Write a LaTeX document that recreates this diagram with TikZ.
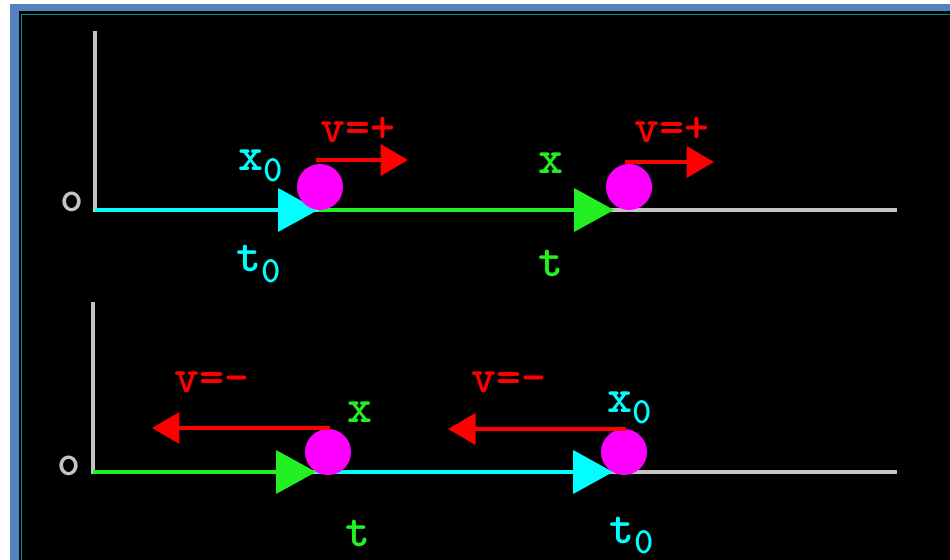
\documentclass[tikz,border=0pt]{standalone}
\usepackage{fontspec}
\usetikzlibrary{
  arrows.meta,
  positioning
}

\definecolor{framesteel}{HTML}{5383BE}
\definecolor{frameteal}{HTML}{0A8C8C}
\definecolor{axisgray}{HTML}{C4C4C4}
\definecolor{trackcyan}{HTML}{00FFFF}
\definecolor{trackgreen}{HTML}{22F022}
\definecolor{ballpink}{HTML}{FF00FF}

\newcommand{\lowidx}[1]{\raisebox{-0.5ex}{\fontsize{21}{21}\selectfont #1}}

\begin{document}
\begin{tikzpicture}[
  x=0.02cm,
  y=-0.02cm,
  font=\ttfamily\bfseries\fontsize{27}{27}\selectfont,
  axis/.style={axisgray, line width=1.9pt},
  track/.style={line width=2.2pt, -{Triangle[length=0.8cm,width=0.86cm]}},
  vel/.style={red, line width=2.4pt, -{Triangle[length=0.55cm,width=0.62cm]}},
  ball/.style={circle, fill=ballpink, minimum size=0.92cm, inner sep=0pt},
  label/.style={inner sep=0pt, anchor=base},
  origin/.style={inner sep=0pt, anchor=base, axisgray,
                 font=\ttfamily\bfseries\fontsize{25}{25}\selectfont}
]

  % Window frame and black screen.
  \useasboundingbox (0,0) rectangle (950,560);
  \clip (0,0) rectangle (950,560);
  \fill[white] (0,0) rectangle (950,560);
  \fill[framesteel] (10,4) rectangle (960,570);
  \fill[black] (19,11) rectangle (960,570);
  \draw[frameteal, line width=0.9pt] (21.5,570) -- (21.5,14.5) -- (960,14.5);

  % Upper case: positive velocity.
  \coordinate (top0) at (95,210);
  \coordinate (topY) at (95,31);
  \coordinate (topA) at (318,210);
  \coordinate (topB) at (614,210);
  \coordinate (topE) at (897,210);

  \draw[axis] (topY) -- (top0) -- (topE);
  \draw[track, trackgreen] (topA) -- (topB);
  \draw[track, trackcyan] (top0) -- (topA);

  \node[ball] (ballA) at (320,187) {};
  \node[ball] (ballB) at (629,187) {};

  \coordinate (velA) at (408,160);
  \coordinate (velB) at (714,162);
  \draw[vel] (316,160) -- (velA);
  \draw[vel] (625,162) -- (velB);

  \node[origin] (o1) at (72,212) {o};
  \node[label, red] (vA) at (358,143) {v=+};
  \node[label, red] (vB) at (672,143) {v=+};
  \node[label, trackcyan] (xA) at (261,171) {x\lowidx{0}};
  \node[label, trackgreen] (xB) at (551,174) {x};
  \node[label, trackcyan] (tA) at (259,272) {t\lowidx{0}};
  \node[label, trackgreen] (tB) at (551,277) {t};

  % Lower case: negative velocity.
  \coordinate (bot0) at (93,472);
  \coordinate (botY) at (93,302);
  \coordinate (botA) at (316,472);
  \coordinate (botB) at (613,472);
  \coordinate (botE) at (897,472);

  \draw[axis] (botY) -- (bot0) -- (botE);
  \draw[track, trackcyan] (botA) -- (botB);
  \draw[track, trackgreen] (bot0) -- (botA);

  \node[ball] (ballC) at (328,452) {};
  \node[ball] (ballD) at (624,452) {};

  \coordinate (velC) at (152,428);
  \coordinate (velD) at (448,429);
  \draw[vel] (330,428) -- (velC);
  \draw[vel] (626,429) -- (velD);

  \node[origin] (o2) at (69,475) {o};
  \node[label, red] (vC) at (212,393) {v=-};
  \node[label, red] (vD) at (509,393) {v=-};
  \node[label, trackgreen] (xC) at (360,422) {x};
  \node[label, trackcyan] (xD) at (630,413) {x\lowidx{0}};
  \node[label, trackgreen] (tC) at (358,546) {t};
  \node[label, trackcyan] (tD) at (632,543) {t\lowidx{0}};

\end{tikzpicture}
\end{document}
